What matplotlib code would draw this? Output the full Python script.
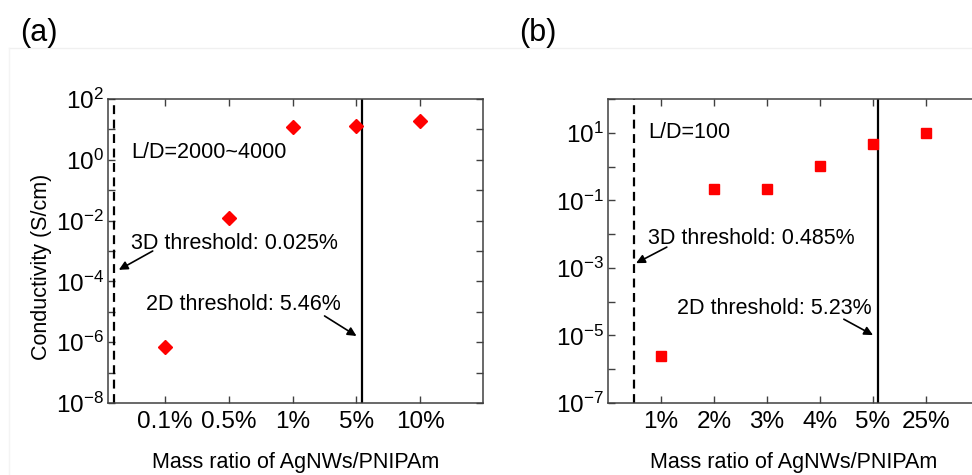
import numpy as np
import matplotlib
matplotlib.use("Agg")
import matplotlib.pyplot as plt
from matplotlib.ticker import FixedLocator, NullFormatter
from matplotlib.lines import Line2D

plt.rcParams['font.family'] = ['Liberation Sans', 'DejaVu Sans']
plt.rcParams['mathtext.fontset'] = 'custom'
plt.rcParams['mathtext.rm'] = 'Liberation Sans'
plt.rcParams['mathtext.it'] = 'Liberation Sans'

# panel (a) data
cats_a = ['0.1%', '0.5%', '1%', '5%', '10%']
cond_a = [7e-7, 1.2e-2, 12, 13, 19]
thr3d_a = 0.2    # dashed line position (category units)
thr2d_a = 4.08   # solid line position

# panel (b) data
cats_b = ['1%', '2%', '3%', '4%', '5%', '25%']
cond_b = [2.5e-6, 0.22, 0.22, 1.05, 4.7, 10]
thr3d_b = 0.49
thr2d_b = 5.1

spine_col = '#404040'
fs = 15.5
tfs = 17.5

fig = plt.figure(figsize=(9.72, 4.75), dpi=100)
ax1 = fig.add_axes([0.1111, 0.1516, 0.3858, 0.64])
ax2 = fig.add_axes([0.6255, 0.1516, 0.3817, 0.64])

# faint frame line of the original figure
fig.add_artist(Line2D([0.009, 1.0], [0.899, 0.899], color='#f0f0f0', lw=1))
fig.add_artist(Line2D([0.009, 0.009], [0.0, 0.899], color='#f4f4f4', lw=1))


def style(ax, cats, major_exp, minor_exp):
    x = np.arange(1, len(cats) + 1)
    ax.set_yscale('log')
    ax.set_xticks(x)
    ax.set_xticklabels(cats, fontsize=tfs)
    ax.yaxis.set_major_locator(FixedLocator([10.0 ** e for e in major_exp]))
    ax.yaxis.set_minor_locator(FixedLocator([10.0 ** e for e in minor_exp]))
    ax.yaxis.set_minor_formatter(NullFormatter())
    ax.set_yticklabels([r'$\mathregular{10^{%d}}$' % e for e in major_exp], fontsize=tfs)
    ax.tick_params(which='both', direction='in', top=True, right=True,
                   length=5, width=1, color=spine_col)
    ax.tick_params(axis='x', pad=6)
    ax.tick_params(axis='y', pad=3)
    for s in ax.spines.values():
        s.set_color(spine_col)
        s.set_linewidth(1.1)
    ax.set_xlabel('Mass ratio of AgNWs/PNIPAm', fontsize=fs)
    ax.xaxis.set_label_coords(0.5, -0.16)
    ax.xaxis.label.set_va('top')


arrow = dict(arrowstyle='-|>', color='k', lw=1.2, mutation_scale=13, shrinkA=0, shrinkB=0)

# ---- (a)
xa = np.arange(1, len(cats_a) + 1)
ax1.plot(xa, cond_a, 'D', color='red', ms=6.8, mec='red', ls='none', zorder=3)
ax1.axvline(thr3d_a, color='k', lw=1.6, ls=(0, (4, 2.5)))
ax1.axvline(thr2d_a, color='k', lw=1.6)
ax1.set_xlim(0.11, 5.98)
ax1.set_ylim(1e-8, 1e2)
style(ax1, cats_a, [2, 0, -2, -4, -6, -8], [1, -1, -3, -5, -7])
ax1.set_ylabel('Conductivity (S/cm)', fontsize=fs)
ax1.yaxis.set_label_coords(-0.15, 0.447)
ax1.text(0.47, 1.8, 'L/D=2000~4000', fontsize=fs, va='center', ha='left')
ax1.text(0.47, 1.8e-3, '3D threshold: 0.025%', fontsize=fs, va='center', ha='left')
ax1.text(0.70, 1.8e-5, '2D threshold: 5.46%', fontsize=fs, va='center', ha='left')
ax1.annotate('', xy=(0.28, 2.4e-4), xytext=(0.81, 1e-3), arrowprops=arrow)
ax1.annotate('', xy=(4.0, 1.6e-6), xytext=(3.5, 7.3e-6), arrowprops=arrow)

# ---- (b)
xb = np.arange(1, len(cats_b) + 1)
ax2.plot(xb, cond_b, 's', color='red', ms=6.5, mec='red', ls='none', zorder=3)
ax2.axvline(thr3d_b, color='k', lw=1.6, ls=(0, (4, 2.5)))
ax2.axvline(thr2d_b, color='k', lw=1.6)
ax2.set_xlim(0.0, 7.0)
ax2.set_ylim(1e-7, 1e2)
style(ax2, cats_b, [1, -1, -3, -5, -7], [2, 0, -2, -4, -6])
ax2.text(0.755, 10, 'L/D=100', fontsize=fs, va='center', ha='left')
ax2.text(0.755, 10 ** -2.12, '3D threshold: 0.485%', fontsize=fs, va='center', ha='left')
ax2.text(1.30, 10 ** -4.19, '2D threshold: 5.23%', fontsize=fs, va='center', ha='left')
ax2.annotate('', xy=(0.53, 10 ** -2.86), xytext=(1.11, 10 ** -2.385), arrowprops=arrow)
ax2.annotate('', xy=(5.0, 10 ** -4.99), xytext=(4.45, 10 ** -4.52), arrowprops=arrow)

fig.text(0.021, 0.93, '(a)', fontsize=22, va='center', ha='left')
fig.text(0.534, 0.93, '(b)', fontsize=22, va='center', ha='left')

fig.savefig('out.png', dpi=100)
